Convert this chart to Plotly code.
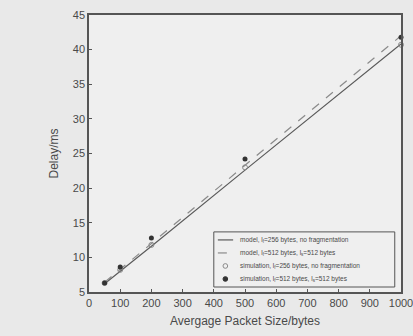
import plotly.graph_objects as go

packet_size = [50, 100, 200, 500, 1000]
model_256 = [6.2, 8.0, 11.6, 22.6, 40.8]
model_512 = [6.4, 8.3, 12.0, 23.3, 42.0]
sim_256 = [6.3, 8.2, 11.8, 23.0, 40.7]
sim_512 = [6.3, 8.6, 12.8, 24.2, 41.8]

names = [
    "model, l<sub>f</sub>=256 bytes, no fragmentation",
    "model, l<sub>f</sub>=512 bytes, l<sub>s</sub>=512 bytes",
    "simulation, l<sub>f</sub>=256 bytes, no fragmentation",
    "simulation, l<sub>f</sub>=512 bytes, l<sub>s</sub>=512 bytes",
]
x_ticks = [0, 100, 200, 300, 400, 500, 600, 700, 800, 900, 1000]
y_ticks = [5, 10, 15, 20, 25, 30, 35, 40, 45]

TXT = "#4a4a4a"
styles = [
    dict(mode="lines", line=dict(color="#5a5a5a", width=1.2)),
    dict(mode="lines", line=dict(color="#8a8a8a", width=1.2, dash="dash")),
    dict(mode="markers", marker=dict(symbol="circle-open", size=5, color="#8a8a8a", line=dict(width=1))),
    dict(mode="markers", marker=dict(symbol="circle", size=5, color="#333333")),
]
series = [model_256, model_512, sim_256, sim_512]

fig = go.Figure()
for nm, ys, st in zip(names, series, styles):
    fig.add_trace(go.Scatter(x=packet_size, y=ys, name=nm, cliponaxis=False, showlegend=False, **st))

# custom compact legend (paper coordinates)
fig.add_shape(type="rect", xref="paper", yref="paper", x0=0.40, x1=0.98, y0=0.018, y1=0.217,
              line=dict(color="#555555", width=1), fillcolor="#efefef", layer="above")
row_y = [0.188, 0.141, 0.094, 0.047]
for i, (nm, st) in enumerate(zip(names, styles)):
    yy = row_y[i]
    if st["mode"] == "lines":
        fig.add_shape(type="line", xref="paper", yref="paper", x0=0.413, x1=0.462, y0=yy, y1=yy,
                      line=dict(color=st["line"]["color"], width=1.2, dash=st["line"].get("dash", "solid")),
                      layer="above")
    else:
        m = st["marker"]
        r = 0.0075
        ry = r * 312 / 277
        filled = m["symbol"] == "circle"
        fig.add_shape(type="circle", xref="paper", yref="paper", x0=0.437 - r, x1=0.437 + r,
                      y0=yy - ry, y1=yy + ry, line=dict(color=m["color"], width=1),
                      fillcolor=m["color"] if filled else "rgba(0,0,0,0)", layer="above")
    fig.add_annotation(xref="paper", yref="paper", x=0.478, y=yy, xanchor="left", yanchor="middle",
                       text=nm, showarrow=False, font=dict(family="Liberation Sans", size=6.5, color=TXT))

axis_common = dict(showline=True, linecolor="#555555", linewidth=1.5, mirror=True,
                   showgrid=False, zeroline=False, ticks="inside", ticklen=3, automargin=False,
                   ticklabeloverflow="allow",
                   tickcolor="#555555", tickfont=dict(family="Liberation Sans", size=11, color=TXT))
fig.update_xaxes(range=[0, 1000], tickvals=x_ticks, ticktext=[str(v) for v in x_ticks],
                 title=dict(text="Avergage Packet Size/bytes", font=dict(family="Liberation Sans", size=12, color=TXT), standoff=9),
                 **axis_common)
fig.update_yaxes(range=[5, 45], tickvals=y_ticks, ticktext=[str(v) for v in y_ticks],
                 title=dict(text="Delay/ms", font=dict(family="Liberation Sans", size=12, color=TXT), standoff=12),
                 **axis_common)

fig.update_layout(
    width=413, height=336,
    margin=dict(l=89, r=12, t=15, b=44),
    paper_bgcolor="#e9e9e9", plot_bgcolor="#efefef",
    showlegend=False,
)
fig.write_html("out.html", config={"displayModeBar": False},
               post_script="document.body.style.margin='0';document.body.style.background='#e9e9e9';")
